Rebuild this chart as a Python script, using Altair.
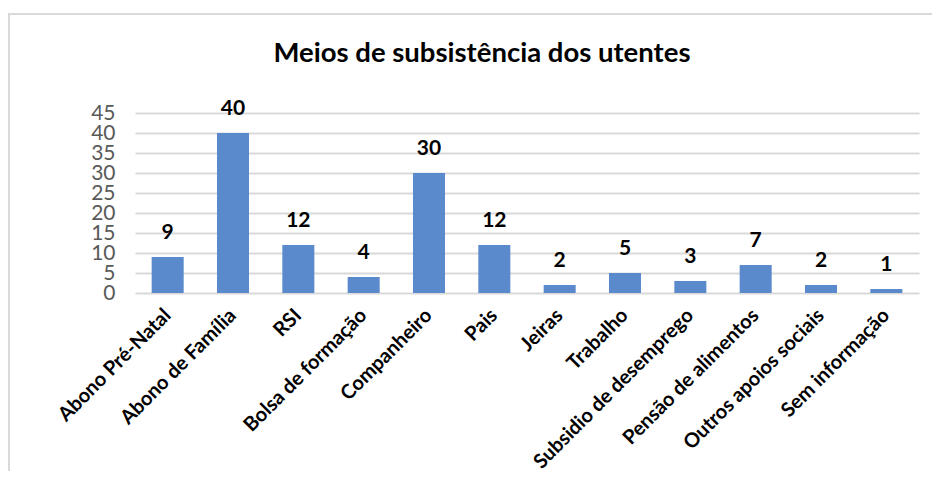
import altair as alt
import pandas as pd

categories = ["Abono Pré-Natal", "Abono de Família", "RSI", "Bolsa de formação",
              "Companheiro", "Pais", "Jeiras", "Trabalho", "Subsidio de desemprego",
              "Pensão de alimentos", "Outros apoios sociais", "Sem informação"]
values = [9, 40, 12, 4, 30, 12, 2, 5, 3, 7, 2, 1]
y_ticks = [0, 5, 10, 15, 20, 25, 30, 35, 40, 45]
title_text = ["Meios de subsistência dos utentes"]

df = pd.DataFrame({"cat": categories, "val": values})
df_title = pd.DataFrame({"t": title_text})

x = alt.X("cat:N", sort=categories, title=None,
          scale=alt.Scale(paddingInner=0.51, paddingOuter=0.255),
          axis=alt.Axis(labelAngle=-45, labelAlign="right", labelBaseline="middle",
                        labelFont="Lato", labelFontWeight="bold", labelFontSize=20,
                        labelColor="#000000", labelPadding=19, ticks=False, domain=False,
                        grid=False, labelOverlap=False, labelLimit=400))
y = alt.Y("val:Q", title=None, scale=alt.Scale(domain=[0, 45], nice=False),
          axis=alt.Axis(values=y_ticks, labelFont="Lato", labelFontWeight="normal",
                        labelFontSize=21, labelColor="#595959", labelPadding=20,
                        labelOverlap=False, ticks=False, domain=False,
                        gridColor="#D9D9D9", gridWidth=2))

base = alt.Chart(df)
bars = base.mark_bar(color="#5A8ACB").encode(x=x, y=y)
labels = base.mark_text(font="Lato", fontWeight="bold", fontSize=21, color="#000000",
                        baseline="alphabetic", dy=-18).encode(x=x, y=y, text="val:Q")

frame_v = base.mark_rule(color="#D9D9D9", strokeWidth=2).encode(
    x=alt.value(-126), y=alt.value(-99), y2=alt.value(400))
frame_h = base.mark_rule(color="#D9D9D9", strokeWidth=2).encode(
    x=alt.value(-127), x2=alt.value(820), y=alt.value(-99))

title = alt.Chart(df_title).mark_text(font="Lato", fontWeight="bold", fontSize=27.5,
                                      color="#000000", baseline="alphabetic",
                                      align="center").encode(
    x=alt.value(347), y=alt.value(-51), text="t:N")

chart = alt.layer(frame_v, frame_h, bars, labels, title).properties(
    width=784, height=180,
    autosize=alt.AutoSizeParams(type="none"),
    padding={"left": 127, "top": 105, "right": 13, "bottom": 178},
).configure_view(stroke=None)

chart.save("out.html", embed_options={"renderer": "svg", "actions": False})
